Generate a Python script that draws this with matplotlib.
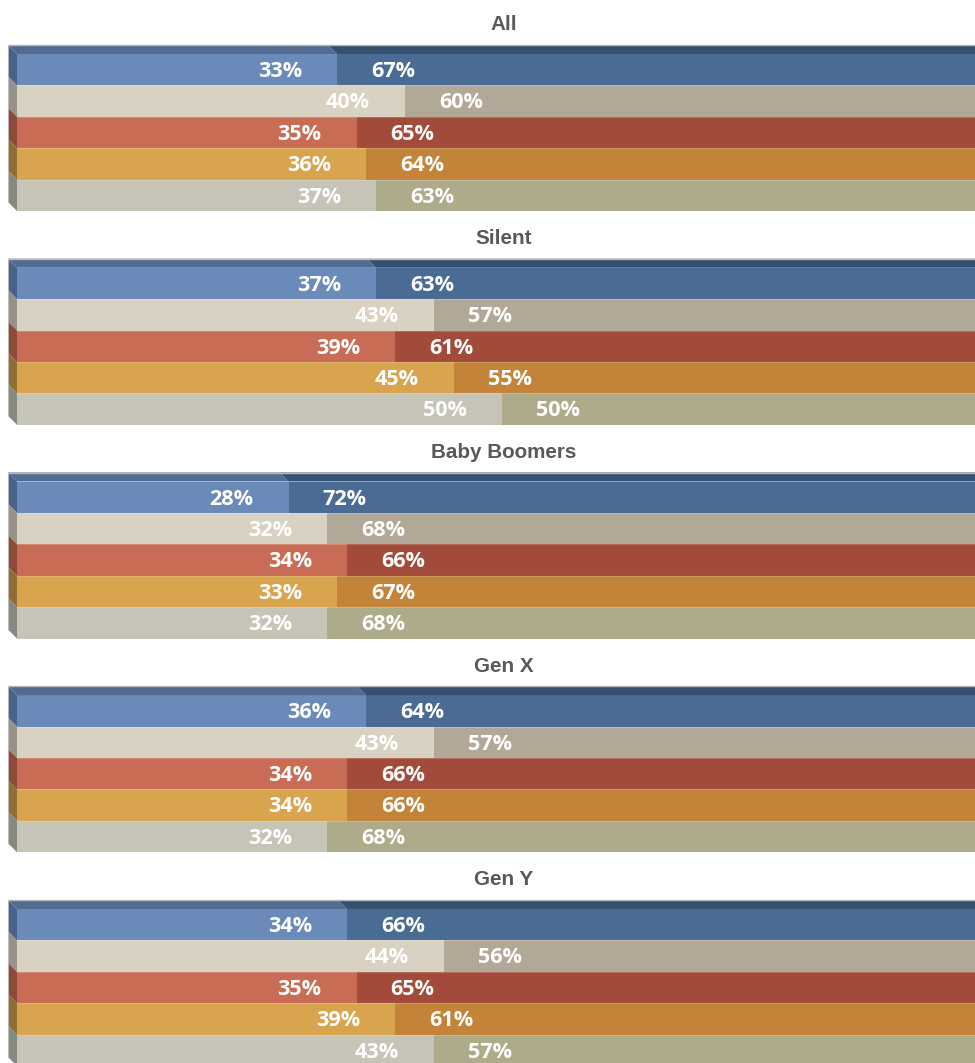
import matplotlib
matplotlib.use("Agg")
import matplotlib.pyplot as plt
from matplotlib.patches import Polygon

# share of the first segment per row, per generation (second segment = 100 - value)
groups = ["All", "Silent", "Baby Boomers", "Gen X", "Gen Y"]
all_vals = [33, 40, 35, 36, 37]
silent_vals = [37, 43, 39, 45, 50]
boomer_vals = [28, 32, 34, 33, 32]
genx_vals = [36, 43, 34, 34, 32]
geny_vals = [34, 44, 35, 39, 43]
group_vals = [all_vals, silent_vals, boomer_vals, genx_vals, geny_vals]

light_cols = ["#6a8bba", "#d9d1c1", "#c96c55", "#d9a44e", "#c5c4b7"]
dark_cols = ["#4a6b94", "#b2a898", "#a34b3a", "#c3843a", "#aeab8a"]
side_cols = ["#4b6189", "#98918a", "#8c4a3a", "#8f6d34", "#858a80"]
top_light = "#536b91"
top_dark = "#36516f"

W, H = 975, 1063
fig = plt.figure(figsize=(W / 100, H / 100), dpi=100)

px_per_pct = 9.7
x0_px = 17
row_px = 31.4
dx = 9 / px_per_pct
dy = 9 / row_px

for i, (name, vals) in enumerate(zip(groups, group_vals)):
    front_top = 54 + i * 213.75
    top_px = front_top - 50
    bot_px = front_top + 162
    ax = fig.add_axes([0, 1 - bot_px / H, 1, (bot_px - top_px) / H])
    ax.set_xlim(-x0_px / px_per_pct, (W - x0_px) / px_per_pct)
    ax.set_ylim((bot_px - front_top) / row_px, (top_px - front_top) / row_px)
    ax.axis("off")

    for r, v in enumerate(vals):
        yc = r + 0.5
        ax.barh(yc, v, left=0, height=1, color=light_cols[r], edgecolor="none")
        ax.barh(yc, 100 - v, left=v, height=1, color=dark_cols[r], edgecolor="none")
        if r > 0:
            ax.plot([0, 100], [r, r], color="white", alpha=0.18, lw=0.8)
        # left side face
        ax.add_patch(Polygon([(0, r), (0, r + 1), (-dx, r + 1 - dy), (-dx, r - dy)],
                             closed=True, facecolor=side_cols[r], edgecolor="none"))
        ax.annotate(f"{v}%", (v, r + 0.733), xytext=(-35, 0), textcoords="offset pixels",
                    ha="right", va="baseline", color="white", fontsize=15.6,
                    fontweight="bold", family="Open Sans")
        ax.annotate(f"{100 - v}%", (v, r + 0.733), xytext=(34, 0), textcoords="offset pixels",
                    ha="left", va="baseline", color="white", fontsize=15.6,
                    fontweight="bold", family="Open Sans")

    # top face of the first row
    v = vals[0]
    ax.add_patch(Polygon([(0, 0), (v, 0), (v - dx, -dy), (-dx, -dy)],
                         closed=True, facecolor=top_light, edgecolor="none"))
    ax.add_patch(Polygon([(v, 0), (100, 0), (100 - dx, -dy), (v - dx, -dy)],
                         closed=True, facecolor=top_dark, edgecolor="none"))
    ax.plot([-dx, 100], [-dy, -dy], color="#b4b8be", lw=1)
    ax.plot([-dx, -dx], [-dy, 5 - dy], color="#c8c8c8", lw=0.6)

    ax.text(50.2, -23.7 / row_px, name, ha="center", va="baseline", fontsize=14.9,
            fontweight="bold", color="#595959", family="Liberation Sans")

fig.savefig("out.png", dpi=100)
